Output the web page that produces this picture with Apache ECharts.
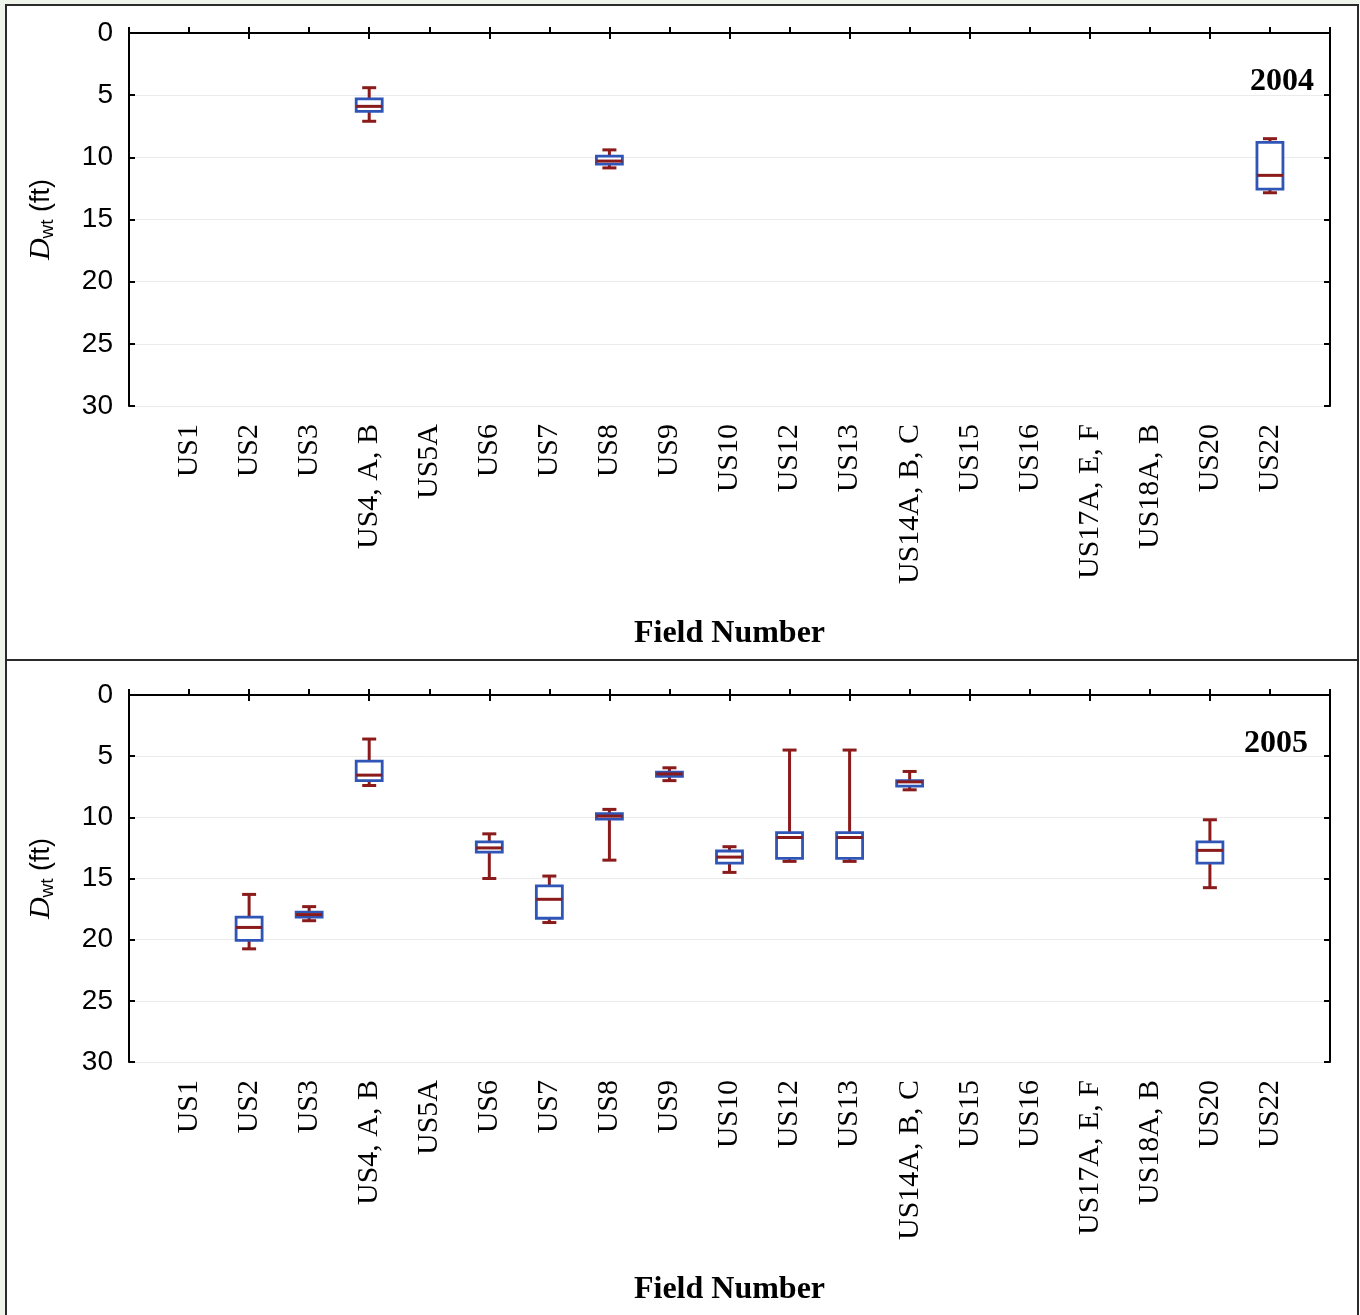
<!DOCTYPE html>
<html>
<head>
<meta charset="utf-8">
<script src="https://cdn.jsdelivr.net/npm/echarts@6/dist/echarts.min.js"></script>
<style>
html,body{margin:0;padding:0;background:#fff;}
#chart{width:1360px;height:1315px;}
</style>
</head>
<body>
<div id="chart"></div>
<script>
// Categories (field numbers)
const categories = ['US1','US2','US3','US4, A, B','US5A','US6','US7','US8','US9','US10','US12','US13','US14A, B, C','US15','US16','US17A, E, F','US18A, B','US20','US22'];
// Y tick values
const yTicks = [0, 5, 10, 15, 20, 25, 30];
// Box data: [field, lowerWhisker(min), Q1, median, Q3, upperWhisker(max)] (depth, ft)
const box2004 = [
  ['US4, A, B', 4.4, 5.3, 5.9, 6.3, 7.1],
  ['US8', 9.4, 9.9, 10.3, 10.55, 10.85],
  ['US22', 8.5, 8.8, 11.45, 12.55, 12.85]
];
const box2005 = [
  ['US2', 16.3, 18.15, 19.0, 20.05, 20.75],
  ['US3', 17.3, 17.75, 17.95, 18.15, 18.45],
  ['US4, A, B', 3.6, 5.4, 6.55, 7.0, 7.4],
  ['US6', 11.35, 12.0, 12.5, 12.85, 15.0],
  ['US7', 14.8, 15.6, 16.7, 18.25, 18.6],
  ['US8', 9.35, 9.7, 9.9, 10.15, 13.5],
  ['US9', 5.95, 6.3, 6.45, 6.65, 7.0],
  ['US10', 12.4, 12.75, 13.25, 13.75, 14.5],
  ['US12', 4.5, 11.25, 11.65, 13.35, 13.6],
  ['US13', 4.5, 11.25, 11.65, 13.35, 13.6],
  ['US14A, B, C', 6.25, 7.0, 7.1, 7.45, 7.75],
  ['US20', 10.2, 12.0, 12.7, 13.75, 15.75]
];
const years = ['2004', '2005'];

const axisCats = [''].concat(categories, ['']);
const RED = '#8b1a1a';
const BLUE = '#2f55b6';

function renderBox(params, api) {
  const x = api.value(0);
  const pMin = api.coord([x, api.value(1)]);
  const pQ1 = api.coord([x, api.value(2)]);
  const pMed = api.coord([x, api.value(3)]);
  const pQ3 = api.coord([x, api.value(4)]);
  const pMax = api.coord([x, api.value(5)]);
  const cx = pMin[0];
  const hb = 13, hc = 7;
  const lw = { stroke: RED, lineWidth: 3 };
  const top = Math.min(pQ1[1], pQ3[1]);
  const bot = Math.max(pQ1[1], pQ3[1]);
  return {
    type: 'group',
    children: [
      { type: 'line', shape: { x1: cx, y1: pMin[1], x2: cx, y2: pQ1[1] }, style: lw },
      { type: 'line', shape: { x1: cx, y1: pQ3[1], x2: cx, y2: pMax[1] }, style: lw },
      { type: 'line', shape: { x1: cx - hc, y1: pMin[1], x2: cx + hc, y2: pMin[1] }, style: lw },
      { type: 'line', shape: { x1: cx - hc, y1: pMax[1], x2: cx + hc, y2: pMax[1] }, style: lw },
      { type: 'rect', shape: { x: cx - hb, y: top, width: 2 * hb, height: bot - top }, style: { fill: '#fff', stroke: BLUE, lineWidth: 2.8 } },
      { type: 'line', shape: { x1: cx - hb, y1: pMed[1], x2: cx + hb, y2: pMed[1] }, style: { stroke: RED, lineWidth: 3 } }
    ]
  };
}

const grids = [
  { left: 129, right: 30, top: 33, height: 373 },
  { left: 129, right: 30, top: 695, height: 367 }
];

const xAxes = [], yAxes = [], series = [];
[box2004, box2005].forEach((data, g) => {
  xAxes.push({
    type: 'category', gridIndex: g, data: axisCats, boundaryGap: false, position: 'bottom',
    axisLine: { lineStyle: { color: '#000', width: 2 } },
    axisTick: { inside: true, length: 6, lineStyle: { color: '#000', width: 2 } },
    axisLabel: { rotate: 90, margin: 18, color: '#000', fontFamily: '"Liberation Serif","Times New Roman",serif', fontSize: 30, interval: 0 },
    splitLine: { show: false },
    name: 'Field Number', nameLocation: 'middle', nameGap: 212,
    nameTextStyle: { color: '#000', fontFamily: '"Liberation Serif","Times New Roman",serif', fontWeight: 'bold', fontSize: 32 }
  });
  xAxes.push({
    type: 'category', gridIndex: g, data: axisCats, boundaryGap: false, position: 'top',
    axisLine: { lineStyle: { color: '#000', width: 2 } },
    axisTick: { inside: true, length: 6, lineStyle: { color: '#000', width: 2 } },
    axisLabel: { show: false }, splitLine: { show: false }
  });
  yAxes.push({
    type: 'value', gridIndex: g, inverse: true, min: yTicks[0], max: yTicks[yTicks.length - 1], interval: 5, position: 'left',
    axisLine: { show: true, lineStyle: { color: '#000', width: 2 } },
    axisTick: { show: true, inside: true, length: 6, lineStyle: { color: '#000', width: 2 } },
    axisLabel: { margin: 16, color: '#000', fontFamily: '"Liberation Sans",Arial,sans-serif', fontSize: 28 },
    splitLine: { show: true, lineStyle: { color: '#ebebeb', width: 1 } },
    name: '{d|D}{s|wt}{n| (ft)}', nameLocation: 'middle', nameGap: 72, nameRotate: 90,
    nameTextStyle: {
      color: '#000',
      rich: {
        d: { fontFamily: '"Liberation Serif","Times New Roman",serif', fontStyle: 'italic', fontSize: 30, color: '#000' },
        s: { fontFamily: '"Liberation Sans",Arial,sans-serif', fontSize: 19, color: '#000', padding: [12, 0, 0, 0] },
        n: { fontFamily: '"Liberation Sans",Arial,sans-serif', fontSize: 27, color: '#000' }
      }
    }
  });
  yAxes.push({
    type: 'value', gridIndex: g, inverse: true, min: yTicks[0], max: yTicks[yTicks.length - 1], interval: 5, position: 'right',
    axisLine: { show: true, lineStyle: { color: '#000', width: 2 } },
    axisTick: { show: true, inside: true, length: 6, lineStyle: { color: '#000', width: 2 } },
    axisLabel: { show: false }, splitLine: { show: false }
  });
  series.push({
    type: 'custom', xAxisIndex: g * 2, yAxisIndex: g * 2,
    renderItem: renderBox, encode: { x: 0, y: [1, 2, 3, 4, 5] },
    data: data, z: 5, silent: true
  });
});

const chart = echarts.init(document.getElementById('chart'), null, { renderer: 'canvas' });
chart.setOption({
  backgroundColor: '#fff',
  animation: false,
  grid: grids,
  xAxis: xAxes,
  yAxis: yAxes,
  series: series,
  graphic: [
    { type: 'rect', z: -10, shape: { x: 0, y: 0, width: 1360, height: 5 }, style: { fill: '#eef4ea' }, silent: true },
    { type: 'rect', z: -10, shape: { x: 0, y: 0, width: 5, height: 1315 }, style: { fill: '#eef4ea' }, silent: true },
    { type: 'rect', z: -9, shape: { x: 6, y: 5, width: 1352, height: 655 }, style: { fill: 'none', stroke: '#2a2a2a', lineWidth: 2 }, silent: true },
    { type: 'rect', z: -9, shape: { x: 6, y: 660, width: 1352, height: 670 }, style: { fill: 'none', stroke: '#2a2a2a', lineWidth: 2 }, silent: true },
    { type: 'text', z: 10, x: 1314, y: 82, style: { text: years[0], textAlign: 'right', textVerticalAlign: 'middle', fill: '#000', font: 'bold 32px "Liberation Serif","Times New Roman",serif' }, silent: true },
    { type: 'text', z: 10, x: 1308, y: 744, style: { text: years[1], textAlign: 'right', textVerticalAlign: 'middle', fill: '#000', font: 'bold 32px "Liberation Serif","Times New Roman",serif' }, silent: true }
  ]
});
</script>
</body>
</html>
